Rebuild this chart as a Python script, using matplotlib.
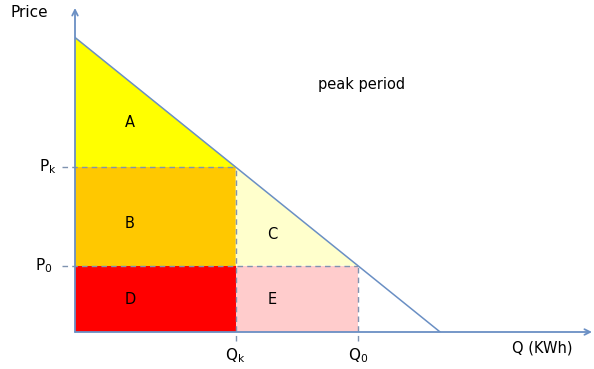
import matplotlib
matplotlib.use("Agg")
from matplotlib import pyplot as plt

# demand curve P = p_max - q (scaled units)
p_max = 10.0
q_max = 10.0
q_k, p_k = 4.4, 5.6     # peak quantity / price
q_0, p_0 = 7.75, 2.25   # quantity / price at P0

area_labels = ["A", "B", "C", "D", "E"]
area_colors = ["#FFFF00", "#FFC800", "#FFFFCC", "#FF0000", "#FFCCCC"]

line_col = "#6A8FC4"
dash_col = "#7F93B0"

fig = plt.figure(figsize=(5.94, 3.69), dpi=100)
ax = fig.add_axes([75 / 594, 37 / 369, 517 / 594, 324 / 369])
ax.set_xlim(0, 14.16)
ax.set_ylim(0, 11.0)
ax.axis("off")

# shaded areas
ax.fill([0, 0, q_k], [p_k, p_max, p_k], color=area_colors[0], lw=0)
ax.fill([0, q_k, q_k, 0], [p_0, p_0, p_k, p_k], color=area_colors[1], lw=0)
ax.fill([q_k, q_k, q_0], [p_0, p_k, p_0], color=area_colors[2], lw=0)
ax.fill([0, q_k, q_k, 0], [0, 0, p_0, p_0], color=area_colors[3], lw=0)
ax.fill([q_k, q_0, q_0, q_k], [0, 0, p_0, p_0], color=area_colors[4], lw=0)

# demand line
ax.plot([0, q_max], [p_max, 0], color=line_col, lw=1.1)

# dashed guides
ax.plot([-0.35, q_k], [p_k, p_k], color=dash_col, lw=1, ls=(0, (4, 3)), clip_on=False)
ax.plot([q_k, q_k], [-0.3, p_k], color=dash_col, lw=1, ls=(0, (4, 3)), clip_on=False)
ax.plot([-0.35, q_0], [p_0, p_0], color=dash_col, lw=1, ls=(0, (4, 3)), clip_on=False)
ax.plot([q_0, q_0], [-0.3, p_0], color=dash_col, lw=1, ls=(0, (4, 3)), clip_on=False)

# axes with arrows
ax.annotate("", xy=(14.16, 0), xytext=(0, 0),
            arrowprops=dict(arrowstyle="->", color=line_col, lw=1.3, shrinkA=0, shrinkB=0))
ax.annotate("", xy=(0, 11.0), xytext=(0, 0),
            arrowprops=dict(arrowstyle="->", color=line_col, lw=1.3, shrinkA=0, shrinkB=0))

# area labels
label_pos = [(1.5, 7.1), (1.5, 3.67), (5.4, 3.3), (1.5, 1.09), (5.4, 1.09)]
for lab, (x, y) in zip(area_labels, label_pos):
    ax.text(x, y, lab, ha="center", va="center", fontsize=10.5)

ax.text(7.85, 8.4, "peak period", ha="center", va="center", fontsize=10.5)
ax.text(-1.25, 10.85, "Price", ha="center", va="center", fontsize=11, clip_on=False)
ax.text(12.8, -0.55, "Q (KWh)", ha="center", va="center", fontsize=10.5, clip_on=False)
ax.text(-0.75, p_k, r"P$_\mathregular{k}$", ha="center", va="center", fontsize=11)
ax.text(-0.85, p_0, r"P$_\mathregular{0}$", ha="center", va="center", fontsize=11)
ax.text(q_k, -0.8, r"Q$_\mathregular{k}$", ha="center", va="center", fontsize=11)
ax.text(q_0, -0.8, r"Q$_\mathregular{0}$", ha="center", va="center", fontsize=11)

plt.savefig("out.png", dpi=100)
